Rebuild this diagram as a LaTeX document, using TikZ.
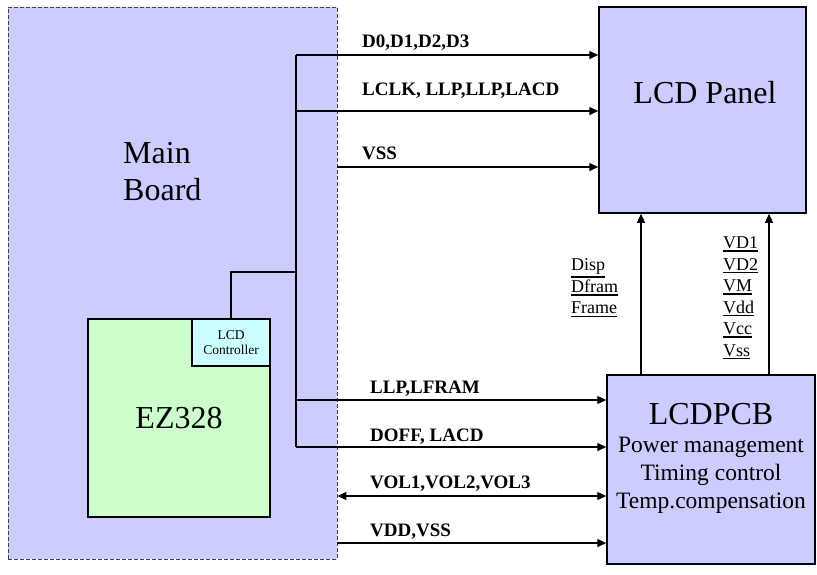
\documentclass[tikz,border=0pt]{standalone}
\usepackage{fontspec}
\setmainfont{Liberation Serif}
\usepackage{tikz}
\usetikzlibrary{arrows.meta, positioning}

\definecolor{lavender}{HTML}{CCCCFF}
\definecolor{chipgreen}{HTML}{CCFFCC}
\definecolor{ctlcyan}{HTML}{CCFFFF}

% thick underline for the pin names
\newcommand{\pinul}[1]{\setbox0=\hbox{#1}\vtop{\copy0\kern1.6pt\hrule height 1.4pt}}

\begin{document}
\begin{tikzpicture}[
    x=1pt, y=-1pt,
    >={Triangle[length=9pt, width=8pt]},
    % Main board (dashed area)
    board/.style={
        rectangle, draw=black!75, dash pattern=on 4pt off 2pt,
        line width=0.8pt, fill=lavender, inner sep=0pt
    },
    % Solid blocks
    blk/.style={
        rectangle, draw=black, line width=1.5pt, inner sep=0pt
    },
    % Signal arrow
    sig/.style={->, line width=1.3pt},
    % Plain wire
    wire/.style={line width=1.3pt},
    % Signal label
    lbl/.style={
        font=\fontsize{19}{21}\selectfont\bfseries,
        anchor=base west, inner sep=0pt
    },
    % Pin list
    pin/.style={
        font=\fontsize{18}{21.5}\selectfont, align=left,
        anchor=west, inner sep=0pt
    },
    % Large titles
    big/.style={font=\fontsize{32}{37}\selectfont},
]

\useasboundingbox (0,0) rectangle (817,574);

% ===== Main board =====
\node[board, minimum width=329pt, minimum height=552pt] (mainbd) at (172.5,283) {};
\node[big, align=left, anchor=base west, inner sep=0pt] (mbname) at (123,200) {Main\\Board};

\node[blk, fill=chipgreen, minimum width=182pt, minimum height=198pt, big] (ez) at (179,418) {EZ328};
\node[blk, fill=ctlcyan, minimum width=78pt, minimum height=47pt,
    font=\fontsize{13.5}{15}\selectfont, align=center] (ctl) at (231,342.5) {LCD\\Controller};

% ===== LCD side =====
\node[blk, fill=lavender, minimum width=207pt, minimum height=206pt] (panel) at (702.5,110) {};
\node[big] (pname) at (705,93) {LCD Panel};

\node[blk, fill=lavender, minimum width=208pt, minimum height=189pt] (pcb) at (711,469.5) {};
\node[align=center, font=\fontsize{23.5}{28}\selectfont, anchor=base, inner sep=0pt] (pcbtext) at (711,508)
    {{\fontsize{32}{32}\selectfont LCDPCB}\\Power management\\Timing control\\Temp.compensation};

% ===== Bus =====
\coordinate (d0) at (296,55);
\coordinate (lclk) at (296,111);
\coordinate (tap) at (296,272);
\coordinate (llp) at (296,400);
\coordinate (doff) at (296,447);
\coordinate (vss) at (mainbd.east |- 0,167);
\coordinate (vol) at (mainbd.east |- 0,496);
\coordinate (vdd) at (mainbd.east |- 0,543);

\draw[wire] (d0) -- (doff);
\draw[wire] (ctl.north) |- (tap);

% To the panel
\draw[sig] (d0) -- (d0 -| panel.west);
\draw[sig] (lclk) -- (lclk -| panel.west);
\draw[sig] (vss) -- (vss -| panel.west);

% To the LCD PCB
\draw[sig] (llp) -- (llp -| pcb.west);
\draw[sig] (doff) -- (doff -| pcb.west);
\draw[<->, line width=1.3pt] (vol) -- (vol -| pcb.west);
\draw[sig] (vdd) -- (vdd -| pcb.west);

% PCB up to panel
\draw[sig] ([xshift=-70pt]pcb.north) -- ([xshift=-70pt]pcb.north |- panel.south);
\draw[sig] ([xshift=58pt]pcb.north) -- ([xshift=58pt]pcb.north |- panel.south);

% Labels
\node[lbl] (d0lbl) at (362,47) {D0,D1,D2,D3};
\node[lbl] (lclklbl) at (362,95) {LCLK, LLP,LLP,LACD};
\node[lbl] (vsslbl) at (362,159) {VSS};
\node[lbl] (llplbl) at (370,393) {LLP,LFRAM};
\node[lbl] (dofflbl) at (370,441) {DOFF, LACD};
\node[lbl] (vollbl) at (370,488) {VOL1,VOL2,VOL3};
\node[lbl] (vddlbl) at (370,536) {VDD,VSS};

\node[pin] (timpins) at (571,288) {\pinul{Disp}\\\pinul{Dfram}\\\pinul{Frame}};
\node[pin] (pwrpins) at (723,298)
    {\pinul{VD1}\\\pinul{VD2}\\\pinul{VM}\\\pinul{Vdd}\\\pinul{Vcc}\\\pinul{Vss}};

\end{tikzpicture}
\end{document}
